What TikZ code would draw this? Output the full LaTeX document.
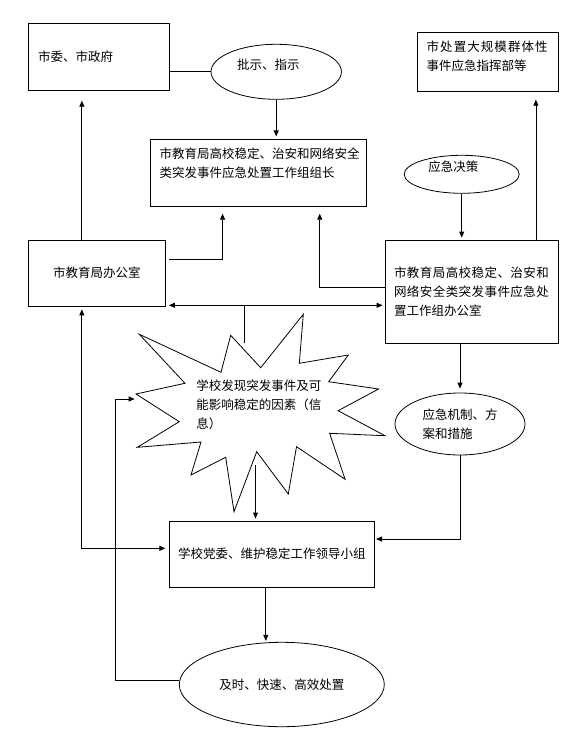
\documentclass[tikz,border=0pt]{standalone}
\usepackage{fontspec}
\setmainfont{Noto Sans CJK SC}
\usetikzlibrary{arrows.meta,shapes.geometric}
\newcommand{\zihao}{\fontsize{12.5}{19}\selectfont}
\tikzset{
  kuang/.style={draw,rectangle,inner xsep=9pt,inner ysep=8.5pt},
  tuoyuan/.style={draw,ellipse,inner sep=0pt}
}
\begin{document}
\begin{tikzpicture}[x=1pt,y=-1pt,line width=0.8pt,>={Triangle[length=6pt,width=5pt]},font=\zihao]
\useasboundingbox (0,0) rectangle (578,743);
\node[kuang,minimum width=140.7pt,minimum height=67pt,text width=122pt,align=left] (shiwei) at (99.05,56.8) {市委、市政府};
\node[tuoyuan,minimum width=130.4pt,minimum height=55pt,label={[xshift=-7.9pt,yshift=6.8pt]center:批示、指示}] (pishi) at (276.2,71.8) {};
\node[kuang,minimum width=216pt,minimum height=67pt] (zuzhang) at (258.55,172.8) {\parbox[c][50pt][t]{198pt}{\zihao 市教育局高校稳定、治安和网络安全\\类突发事件应急处置工作组组长}};
\node[kuang,minimum width=140.7pt,minimum height=59pt] (zhihui) at (487.65,61.8) {\parbox[c][42pt][t]{122pt}{\zihao{\addfontfeature{LetterSpace=8.5}市处置大规模群体性}\\事件应急指挥部等}};
\node[tuoyuan,minimum width=115pt,minimum height=38pt,label={[xshift=-8.4pt,yshift=7.3pt]center:应急决策}] (juece) at (461.7,174.3) {};
\node[kuang,minimum width=173pt,minimum height=103.3pt,text width=155pt,align=left] (bangongshi) at (471.5,291.65) {{\addfontfeature{LetterSpace=3.5}市教育局高校稳定、治安和}\\{\addfontfeature{LetterSpace=3.5}网络安全类突发事件应急处}\\置工作组办公室};
\node[kuang,minimum width=136.3pt,minimum height=66pt] (jiaoyuju) at (96.85,273) {市教育局办公室};
\node[tuoyuan,minimum width=130pt,minimum height=62pt,align=left] (jizhi) at (460,424) {应急机制、方\\案和措施};
\node[kuang,minimum width=205.6pt,minimum height=66pt] (dangwei) at (271.8,554) {学校党委、维护稳定工作领导小组};
\node[tuoyuan,minimum width=205pt,minimum height=84.4pt] (chuzhi) at (281.8,684.5) {及时、快速、高效处置};
\draw (136,394) -- (185,383.3) -- (139.3,334.3) -- (221,372.3) -- (230.7,335.3) -- (260.7,367.7)
  -- (303.3,314.3) -- (299.3,363.3) -- (348.3,355) -- (328.7,381.7) -- (378.6,389) -- (338.1,410.7)
  -- (384.9,435.7) -- (329.6,433.3) -- (345.1,479.3) -- (296.5,446.7) -- (288.3,494) -- (256.7,451.7)
  -- (234,511.7) -- (225.7,457.3) -- (191,475) -- (201,442) -- (137.3,447.3) -- (179.3,421.7) -- cycle;
\node[anchor=west,inner sep=0pt,align=left] (faxian) at (196,404.5) {学校发现突发事件及可\\能影响稳定的因素（信\\息）};
\coordinate (xing-ding) at (244.2,343.3);
\coordinate (xing-di) at (255.5,465);
\coordinate (xing-zuo) at (134.7,399);
\draw (pishi.west) -- (pishi.west -| shiwei.east);
\draw[->,shorten >=2.5pt] (pishi.south) -- (pishi.south |- zuzhang.north);
\draw[->,shorten >=2pt] (juece.south) -- (juece.south |- bangongshi.north);
\coordinate (e-shang) at ([xshift=-22.5pt]bangongshi.north east);
\draw[->,shorten >=8pt] (e-shang) -- (e-shang |- zhihui.south);
\coordinate (f-shang) at ([xshift=-15pt]jiaoyuju.north);
\draw[->,shorten >=10pt] (f-shang) -- (f-shang |- shiwei.south);
\coordinate (f-you) at ([yshift=14pt]jiaoyuju.east);
\coordinate (b-zuo) at ([xshift=-36pt]zuzhang.south);
\draw[->,shorten <=3.5pt,shorten >=7pt] (f-you) -| (b-zuo);
\coordinate (e-zuo) at ([yshift=4.65pt]bangongshi.west);
\coordinate (b-you) at ([xshift=61.2pt]zuzhang.south);
\draw[->,shorten >=7pt] (e-zuo) -| (b-you);
\coordinate (e-xia) at ([yshift=-13.65pt]bangongshi.west);
\draw[<->,shorten <=3.5pt,shorten >=2pt] (e-xia -| jiaoyuju.east) -- (e-xia);
\draw (xing-ding) -- (xing-ding |- e-xia);
\draw[->,shorten >=4pt] (bangongshi.south -| jizhi.north) -- (jizhi.north);
\coordinate (h-you) at ([yshift=15pt]dangwei.east);
\draw[->,shorten >=1pt] (jizhi.south) |- (h-you);
\draw[->,shorten >=2pt] (xing-di) -- (xing-di |- dangwei.north);
\coordinate (h-zuo) at ([yshift=5.7pt]dangwei.west);
\coordinate (f-xia) at ([xshift=-15pt]jiaoyuju.south);
\draw[<->,shorten <=3pt,shorten >=3.3pt] (f-xia) |- (h-zuo);
\coordinate (h-xia) at ([xshift=-6pt]dangwei.south);
\draw[->,shorten >=1pt] (h-xia) -- (h-xia |- chuzhi.north);
\coordinate (i-zuo) at ([yshift=4.5pt]chuzhi.west);
\draw[->] (i-zuo) -| ([xshift=-19.4pt]xing-zuo) -- (xing-zuo);
\end{tikzpicture}
\end{document}
